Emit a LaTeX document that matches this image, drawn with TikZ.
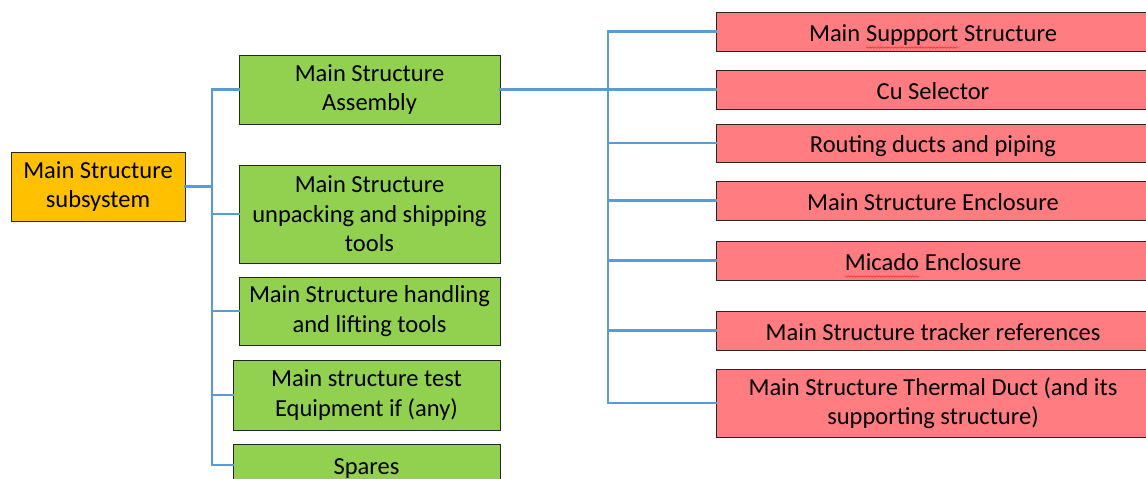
\documentclass[tikz,border=0pt]{standalone}
\usepackage{fontspec}
\setmainfont{Carlito}
\usepackage{tikz}
\usetikzlibrary{calc, decorations.pathmorphing}
\usepackage{xcolor}
\definecolor{subamber}{RGB}{255,192,0}
\definecolor{itemgreen}{RGB}{146,208,80}
\definecolor{partred}{RGB}{255,124,128}
\definecolor{wireblue}{RGB}{91,155,213}

% red squiggle under words the spell checker flags
\newcommand\spellwave[1]{\tikz[baseline=(w.base)]{%
  \node[draw=none,fill=none,inner sep=0pt,outer sep=0pt,minimum width=0pt,minimum height=0pt,
    text height=,text depth=] (w) {#1};
  \draw[red!85,line width=0.5pt,decorate,decoration={snake,amplitude=0.8pt,segment length=2.8pt}]
    ([yshift=-6.5pt]w.base west) -- ([yshift=-6.5pt]w.base east);}}

\begin{document}
\begin{tikzpicture}[x=1pt,y=-1pt,
  box/.style={draw=black!85,line width=0.9pt,inner sep=0pt,align=center,
    font=\fontsize{24.5}{29.5}\selectfont},
  oneline/.style={text height=20pt,text depth=1pt},
  subbox/.style={box,fill=subamber},
  itembox/.style={box,fill=itemgreen},
  partbox/.style={box,fill=partred,minimum width=434pt},
  wire/.style={wireblue,line width=2.8pt,line cap=rect}]
  \clip (0,0) rectangle (1146,479);

  % subsystem
  \node[subbox,minimum width=174pt,minimum height=69pt] (sub) at (98,186.5){Main Structure\\subsystem};

  % second level
  \node[itembox,minimum width=261pt,minimum height=69pt] (asm) at (369.5,89.5){Main Structure\\Assembly};
  \node[itembox,minimum width=261pt,minimum height=98pt] (unp) at (369.5,214){Main Structure\\unpacking and shipping\\tools};
  \node[itembox,minimum width=261pt,minimum height=68pt] (hdl) at (369.5,311){Main Structure handling\\and lifting tools};
  \node[itembox,minimum width=267pt,minimum height=70pt] (tst) at (366.5,395){Main structure test\\Equipment if (any)};
  \node[itembox,oneline,minimum width=267pt,minimum height=42pt] (spr) at (366.5,465){Spares};

  % parts of the assembly
  \node[partbox,oneline,minimum height=39pt] (p1) at (933,31.5){Main \spellwave{Suppport} Structure};
  \node[partbox,oneline,minimum height=39pt] (p2) at (933,89.5){Cu Selector};
  \node[partbox,oneline,minimum height=38pt] (p3) at (933,143){Routing ducts and piping};
  \node[partbox,oneline,minimum height=39pt] (p4) at (933,200.5){Main Structure Enclosure};
  \node[partbox,oneline,minimum height=39pt] (p5) at (933,260.5){\spellwave{Micado} Enclosure};
  \node[partbox,oneline,minimum height=39pt] (p6) at (933,330.5){Main Structure tracker references};
  \node[partbox,minimum height=68pt] (p7) at (933,403){Main Structure Thermal Duct (and its\\supporting structure)};

  \coordinate (lbus) at (212,0);
  \coordinate (rbus) at (608,0);

  % left tree
  \draw[wire] (sub.east) -- (sub.east -| lbus);
  \draw[wire] (lbus |- asm.west) -- (lbus |- spr.west);
  \foreach \n in {asm,unp,hdl,tst,spr}
    \draw[wire] (lbus |- \n.west) -- (\n.west);

  % right tree
  \draw[wire] (asm.east) -- (asm.east -| rbus);
  \draw[wire] (rbus |- p1.west) -- (rbus |- p7.west);
  \foreach \n in {p1,p2,p3,p4,p5,p6,p7}
    \draw[wire] (rbus |- \n.west) -- (\n.west);
\end{tikzpicture}
\end{document}
